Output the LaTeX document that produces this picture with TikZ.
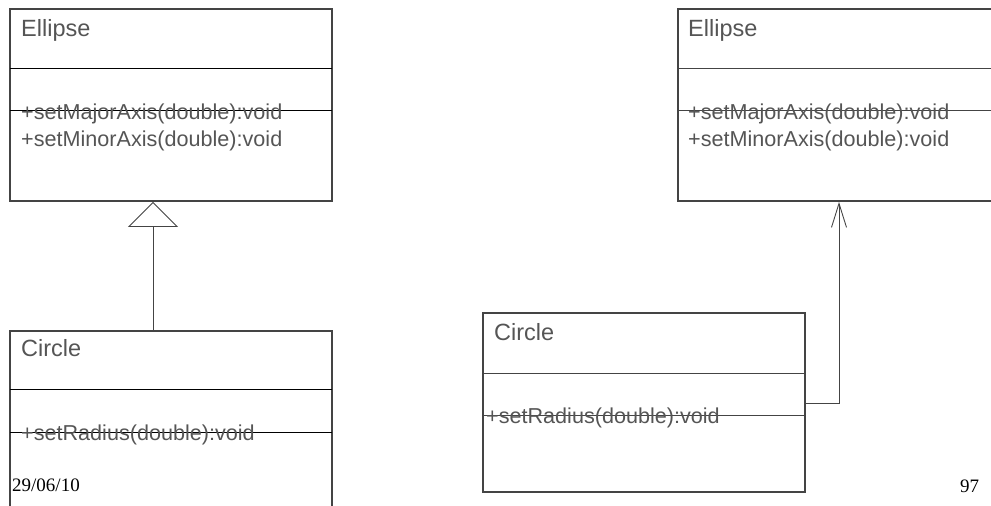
\documentclass[tikz,border=0pt]{standalone}
\usepackage{fontspec}
\setmainfont{Liberation Serif}
\newfontfamily\umlfont{Liberation Sans}
\usetikzlibrary{arrows.meta}
\definecolor{umltext}{HTML}{555555}
\definecolor{umlline}{HTML}{444444}
\tikzset{
  classbox/.style={draw=umlline, line width=1.8pt, rectangle, inner sep=0pt, fill=none},
  sepline/.style={draw=black, line width=0.8pt},
  title/.style={anchor=base west, inner sep=0pt, text=umltext, font=\umlfont\fontsize{23.5}{26}\selectfont},
  member/.style={anchor=base west, inner sep=0pt, text=umltext, font=\umlfont\fontsize{21.6}{26}\selectfont},
  footer/.style={anchor=base west, inner sep=0pt, text=black, font=\fontsize{19}{22}\selectfont},
  link/.style={draw=umlline, line width=0.9pt}
}
\begin{document}
\begin{tikzpicture}[x=1pt,y=-1pt]
\useasboundingbox (0,0) rectangle (991,506);
\clip (0,0) rectangle (991,506);

% ---- generalization: Circle specializes Ellipse ----
\node[classbox, minimum width=322pt, minimum height=192pt] (ellA) at (171,105) {};
\draw[sepline] (10,68) -- (332,68);
\draw[sepline] (10,110) -- (332,110);
\node[title]  (ellAname) at (21,36) {Ellipse};
\node[member] (ellAm1)   at (21,119) {+setMajorAxis(double):void};
\node[member] (ellAm2)   at (21,146.7) {+setMinorAxis(double):void};

\node[classbox, minimum width=322pt, minimum height=200pt] (cirA) at (171,431) {};
\draw[sepline] (10,389) -- (332,389);
\draw[sepline] (10,432) -- (332,432);
\node[title]  (cirAname) at (21,356.7) {Circle};
\node[member] (cirAm1)   at (21,440) {+setRadius(double):void};

\draw[link, -{Triangle[open, length=25pt, width=50pt, fill=white]}]
  (cirA.north -| 153,0) -- (ellA.south -| 153,0);

% ---- association: Circle uses Ellipse ----
\node[classbox, minimum width=340pt, minimum height=192pt] (ellB) at (848,105) {};
\draw[sepline, line width=0.6pt, draw=umlline] (678,68) -- (1000,68);
\draw[sepline, line width=0.6pt, draw=umlline] (678,110) -- (1000,110);
\node[title]  (ellBname) at (688,36) {Ellipse};
\node[member] (ellBm1)   at (688,119) {+setMajorAxis(double):void};
\node[member] (ellBm2)   at (688,146.7) {+setMinorAxis(double):void};

\node[classbox, minimum width=322pt, minimum height=179pt] (cirB) at (644,402.5) {};
\draw[sepline, draw=umlline] (483,373) -- (805,373);
\draw[sepline, line width=0.6pt, draw=umlline] (483,415) -- (805,415);
\node[title]  (cirBname) at (494,340.7) {Circle};
\node[member] (cirBm1)   at (486,423.8) {+setRadius(double):void};

\coordinate (bend) at (839,403);
\draw[link, -{Straight Barb[length=24pt, width=15pt, line width=0.9pt]}]
  (cirB.east |- bend) -- (bend) -- (ellB.south -| bend);

% ---- slide footer ----
\node[footer] (date) at (12,491) {29/06/10};
\node[footer] (page) at (960,492) {97};
\end{tikzpicture}
\end{document}
